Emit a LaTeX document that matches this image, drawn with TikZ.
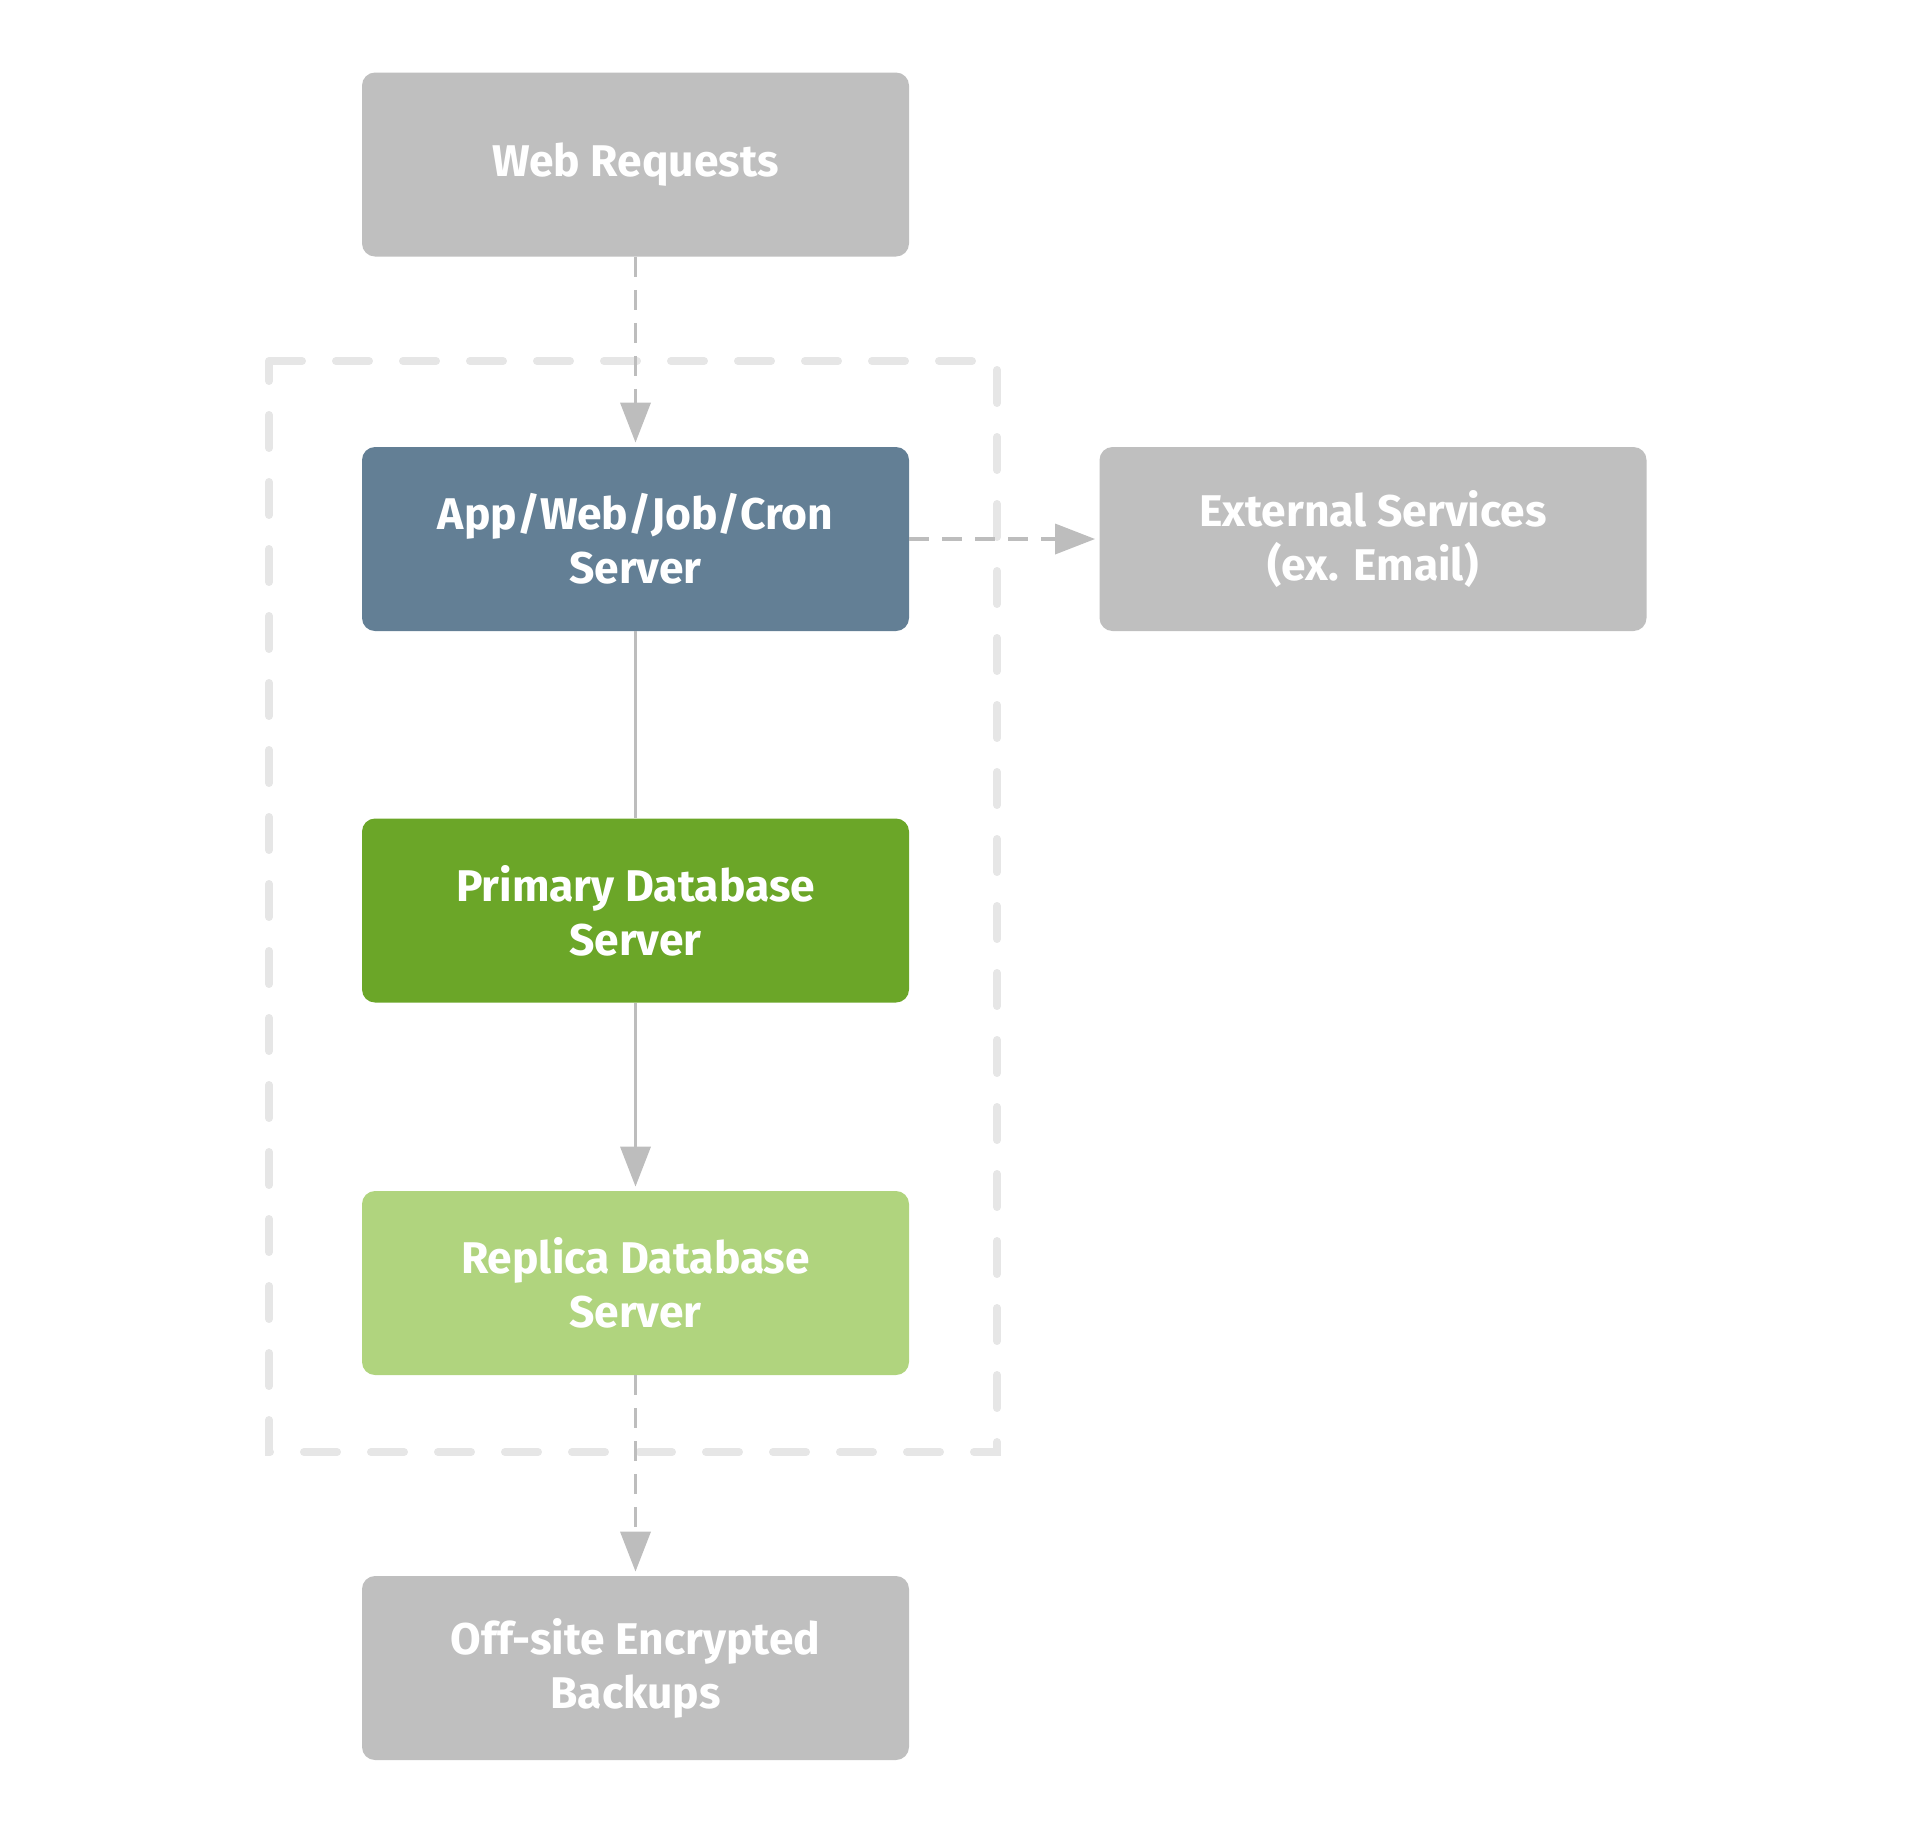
\documentclass[tikz,border=0pt]{standalone}
\usepackage{fontspec}
\setmainfont{Fira Sans}
\usepackage{tikz}
\usetikzlibrary{arrows.meta,positioning}
\definecolor{srvgray}{HTML}{BFBFBF}
\definecolor{srvslate}{HTML}{637F95}
\definecolor{srvgreen}{HTML}{6BA628}
\definecolor{srvlime}{HTML}{B0D47E}
\definecolor{linkgray}{HTML}{BDBDBD}
\definecolor{zonegray}{HTML}{E6E6E6}

\begin{document}
\begin{tikzpicture}[x=0.5pt, y=-0.5pt,
    srvbox/.style={rectangle, rounded corners=6.5pt, minimum width=273.5pt,
        minimum height=92pt, inner sep=0pt, align=center, text=white,
        font=\fontsize{22.2}{27}\selectfont\bfseries},
    link/.style={draw=linkgray, line width=1.8pt},
    dlink/.style={link, dash pattern=on 10pt off 6.5pt},
    tip/.style={-{Triangle[length=20pt,width=15pt]}, shorten >=2pt}]
    \useasboundingbox (0,0) rectangle (1916,1833);

    % Zone around the hosted servers
    \draw[zonegray, line width=4pt, line cap=round, dash pattern=on 16.5pt off 17pt]
        (269,361) -- (997,361) -- (997,1452) -- (269,1452) -- cycle;

    % Servers
    \node[srvbox, fill=srvgray] (web) at (635.5,164.5) {Web Requests};
    \node[srvbox, fill=srvslate] (app) at (635.5,539) {App/Web/Job/Cron\\Server};
    \node[srvbox, fill=srvgray] (ext) at (1373,539) {External Services\\(ex. Email)};
    \node[srvbox, fill=srvgreen] (prim) at (635.5,910.5) {Primary Database\\Server};
    \node[srvbox, fill=srvlime] (repl) at (635.5,1283) {Replica Database\\Server};
    \node[srvbox, fill=srvgray] (back) at (635.5,1668) {Off-site Encrypted\\Backups};

    % Links
    \draw[dlink, tip] (web) -- (app);
    \draw[dlink, tip] (app) -- (ext);
    \draw[link] (app) -- (prim);
    \draw[link, tip] (prim) -- (repl);
    \draw[dlink, tip] (repl) -- (back);
\end{tikzpicture}
\end{document}
